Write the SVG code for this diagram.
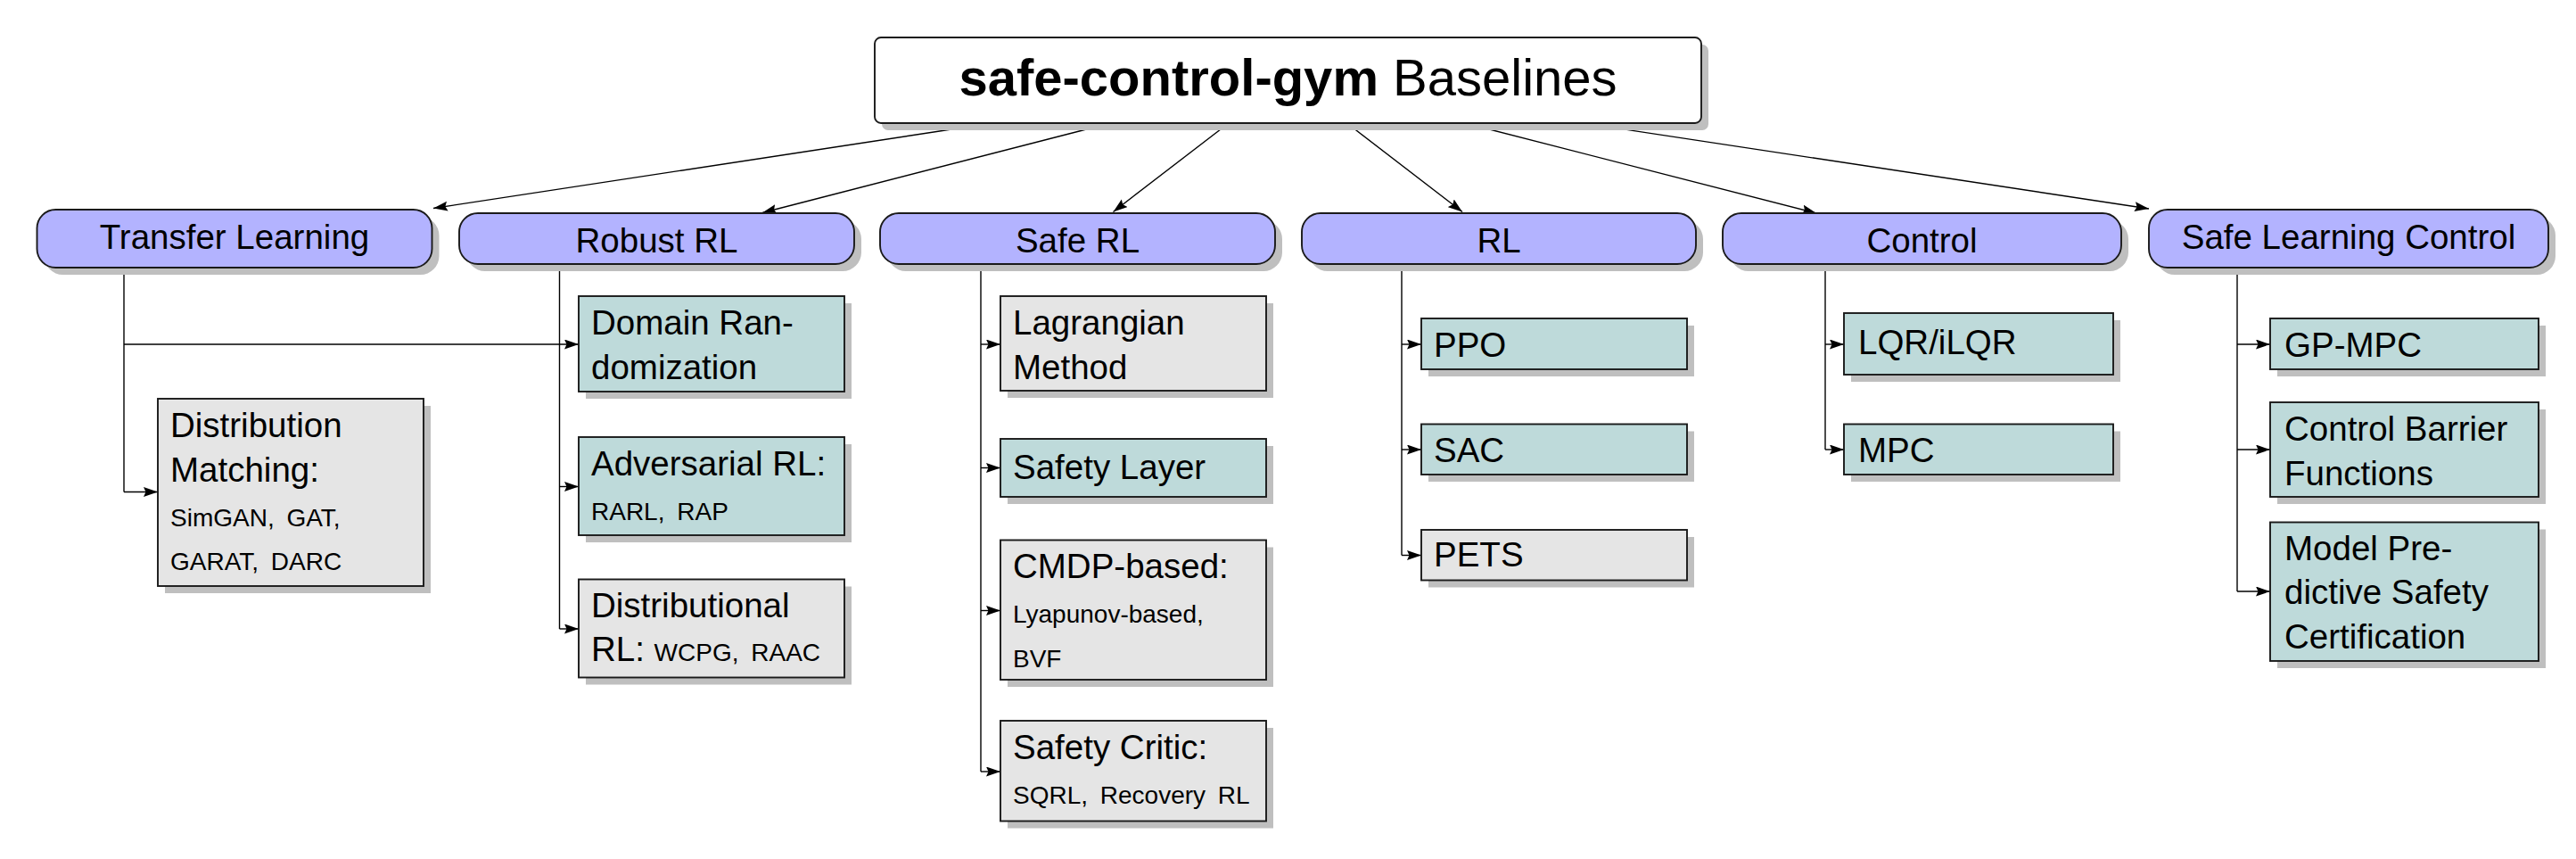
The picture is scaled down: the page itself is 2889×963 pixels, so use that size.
<svg xmlns="http://www.w3.org/2000/svg" width="2889" height="963" viewBox="0 0 2889 963">
<style>
.t{font-family:"Liberation Sans",Arial,sans-serif;font-size:38.5px;fill:#000}
.s{font-size:28px;word-spacing:6px}
.sh{fill:#bfbfbf}
.pill{fill:#b3b3ff;stroke:#1a1a1a;stroke-width:1.9}
.teal{fill:#bedada;stroke:#1a1a1a;stroke-width:1.9}
.gray{fill:#e5e5e5;stroke:#1a1a1a;stroke-width:1.9}
.top{fill:#fff;stroke:#1a1a1a;stroke-width:1.9}
.c{stroke:#000;stroke-width:1.4;fill:none}
.a{marker-end:url(#ah)}
</style>
<defs>
<marker id="ah" markerUnits="userSpaceOnUse" markerWidth="18" markerHeight="12" refX="16" refY="5.5" orient="auto">
<path d="M0,0 L16,5.5 L0,11 L2.5,5.5 z" fill="#000"/>
</marker>
</defs>

<g id="connectors">
<line class="c a" x1="1113" y1="138" x2="486" y2="233.5"/>
<line class="c a" x1="1245.5" y1="138" x2="855" y2="238.5"/>
<line class="c a" x1="1378" y1="138" x2="1248.5" y2="237.5"/>
<line class="c a" x1="1510.5" y1="138" x2="1640" y2="237.5"/>
<line class="c a" x1="1643" y1="138" x2="2037" y2="239"/>
<line class="c a" x1="1775.5" y1="138" x2="2410" y2="234"/>

<line class="c" x1="139" y1="300" x2="139" y2="551.5"/>
<line class="c a" x1="139" y1="386" x2="649" y2="386"/>
<line class="c a" x1="139" y1="551.5" x2="177" y2="551.5"/>

<line class="c" x1="627.5" y1="296" x2="627.5" y2="705"/>
<line class="c a" x1="627.5" y1="545.5" x2="649" y2="545.5"/>
<line class="c a" x1="627.5" y1="705" x2="649" y2="705"/>

<line class="c" x1="1100" y1="296" x2="1100" y2="865"/>
<line class="c a" x1="1100" y1="386" x2="1122" y2="386"/>
<line class="c a" x1="1100" y1="524.5" x2="1122" y2="524.5"/>
<line class="c a" x1="1100" y1="684.5" x2="1122" y2="684.5"/>
<line class="c a" x1="1100" y1="865" x2="1122" y2="865"/>

<line class="c" x1="1572" y1="296" x2="1572" y2="622.5"/>
<line class="c a" x1="1572" y1="386" x2="1594" y2="386"/>
<line class="c a" x1="1572" y1="504" x2="1594" y2="504"/>
<line class="c a" x1="1572" y1="622.5" x2="1594" y2="622.5"/>

<line class="c" x1="2047" y1="296" x2="2047" y2="504"/>
<line class="c a" x1="2047" y1="386" x2="2068" y2="386"/>
<line class="c a" x1="2047" y1="504" x2="2068" y2="504"/>

<line class="c" x1="2509" y1="300" x2="2509" y2="663"/>
<line class="c a" x1="2509" y1="386" x2="2546" y2="386"/>
<line class="c a" x1="2509" y1="504" x2="2546" y2="504"/>
<line class="c a" x1="2509" y1="663" x2="2546" y2="663"/>
</g>

<g id="root">
<rect class="sh" x="989" y="50" width="927" height="96" rx="7"/>
<rect class="top" x="981" y="42" width="927" height="96" rx="7"/>
<text class="t" x="1444.5" y="107" text-anchor="middle" style="font-size:58px"><tspan font-weight="bold">safe-control-gym</tspan> Baselines</text>
</g>

<g id="transfer-learning">
<rect class="sh" x="49.5" y="243" width="443" height="65" rx="21"/>
<rect class="pill" x="41.5" y="235" width="443" height="65" rx="21"/>
<text class="t" x="263" y="278.5" text-anchor="middle">Transfer Learning</text>
</g>
<g id="robust-rl">
<rect class="sh" x="523" y="247" width="443" height="57" rx="21"/>
<rect class="pill" x="515" y="239" width="443" height="57" rx="21"/>
<text class="t" x="736.5" y="283" text-anchor="middle">Robust RL</text>
</g>
<g id="safe-rl">
<rect class="sh" x="995" y="247" width="443" height="57" rx="21"/>
<rect class="pill" x="987" y="239" width="443" height="57" rx="21"/>
<text class="t" x="1208.5" y="283" text-anchor="middle">Safe RL</text>
</g>
<g id="rl">
<rect class="sh" x="1468" y="247" width="442" height="57" rx="21"/>
<rect class="pill" x="1460" y="239" width="442" height="57" rx="21"/>
<text class="t" x="1681" y="283" text-anchor="middle">RL</text>
</g>
<g id="control">
<rect class="sh" x="1940" y="247" width="447" height="57" rx="21"/>
<rect class="pill" x="1932" y="239" width="447" height="57" rx="21"/>
<text class="t" x="2155.5" y="283" text-anchor="middle">Control</text>
</g>
<g id="safe-learning-control">
<rect class="sh" x="2418" y="243" width="448" height="65" rx="21"/>
<rect class="pill" x="2410" y="235" width="448" height="65" rx="21"/>
<text class="t" x="2634" y="278.5" text-anchor="middle">Safe Learning Control</text>
</g>

<g id="domain-randomization">
<rect class="sh" x="657" y="340" width="298" height="107"/>
<rect class="teal" x="649" y="332" width="298" height="107"/>
<text class="t" x="663" y="375">Domain Ran-</text>
<text class="t" x="663" y="425">domization</text>
</g>
<g id="distribution-matching">
<rect class="sh" x="185" y="455" width="298" height="210"/>
<rect class="gray" x="177" y="447" width="298" height="210"/>
<text class="t" x="191" y="490">Distribution</text>
<text class="t" x="191" y="540">Matching:</text>
<text class="t s" x="191" y="589.5">SimGAN, GAT,</text>
<text class="t s" x="191" y="639">GARAT, DARC</text>
</g>
<g id="adversarial-rl">
<rect class="sh" x="657" y="498" width="298" height="110"/>
<rect class="teal" x="649" y="490" width="298" height="110"/>
<text class="t" x="663" y="533">Adversarial RL:</text>
<text class="t s" x="663" y="583">RARL, RAP</text>
</g>
<g id="distributional-rl">
<rect class="sh" x="657" y="657.5" width="298" height="110"/>
<rect class="gray" x="649" y="649.5" width="298" height="110"/>
<text class="t" x="663" y="691.5">Distributional</text>
<text class="t" x="663" y="741">RL: <tspan class="s">WCPG, RAAC</tspan></text>
</g>

<g id="lagrangian-method">
<rect class="sh" x="1130" y="340" width="298" height="106"/>
<rect class="gray" x="1122" y="332" width="298" height="106"/>
<text class="t" x="1136" y="375">Lagrangian</text>
<text class="t" x="1136" y="425">Method</text>
</g>
<g id="safety-layer">
<rect class="sh" x="1130" y="500" width="298" height="65"/>
<rect class="teal" x="1122" y="492" width="298" height="65"/>
<text class="t" x="1136" y="536.5">Safety Layer</text>
</g>
<g id="cmdp-based">
<rect class="sh" x="1130" y="613.5" width="298" height="156.5"/>
<rect class="gray" x="1122" y="605.5" width="298" height="156.5"/>
<text class="t" x="1136" y="648">CMDP-based:</text>
<text class="t s" x="1136" y="698">Lyapunov-based,</text>
<text class="t s" x="1136" y="748">BVF</text>
</g>
<g id="safety-critic">
<rect class="sh" x="1130" y="816" width="298" height="112.5"/>
<rect class="gray" x="1122" y="808" width="298" height="112.5"/>
<text class="t" x="1136" y="850.5">Safety Critic:</text>
<text class="t s" x="1136" y="901">SQRL, Recovery RL</text>
</g>

<g id="ppo">
<rect class="sh" x="1602" y="365" width="298" height="57"/>
<rect class="teal" x="1594" y="357" width="298" height="57"/>
<text class="t" x="1608" y="400">PPO</text>
</g>
<g id="sac">
<rect class="sh" x="1602" y="483.5" width="298" height="56.5"/>
<rect class="teal" x="1594" y="475.5" width="298" height="56.5"/>
<text class="t" x="1608" y="518">SAC</text>
</g>
<g id="pets">
<rect class="sh" x="1602" y="602" width="298" height="56.5"/>
<rect class="gray" x="1594" y="594" width="298" height="56.5"/>
<text class="t" x="1608" y="635">PETS</text>
</g>

<g id="lqr-ilqr">
<rect class="sh" x="2076" y="359" width="302" height="69"/>
<rect class="teal" x="2068" y="351" width="302" height="69"/>
<text class="t" x="2084" y="397">LQR/iLQR</text>
</g>
<g id="mpc">
<rect class="sh" x="2076" y="483.5" width="302" height="56.5"/>
<rect class="teal" x="2068" y="475.5" width="302" height="56.5"/>
<text class="t" x="2084" y="518">MPC</text>
</g>

<g id="gp-mpc">
<rect class="sh" x="2554" y="365" width="301" height="57"/>
<rect class="teal" x="2546" y="357" width="301" height="57"/>
<text class="t" x="2562" y="400">GP-MPC</text>
</g>
<g id="control-barrier-functions">
<rect class="sh" x="2554" y="459" width="301" height="106"/>
<rect class="teal" x="2546" y="451" width="301" height="106"/>
<text class="t" x="2562" y="494">Control Barrier</text>
<text class="t" x="2562" y="543.5">Functions</text>
</g>
<g id="mpsc">
<rect class="sh" x="2554" y="593.5" width="301" height="155.5"/>
<rect class="teal" x="2546" y="585.5" width="301" height="155.5"/>
<text class="t" x="2562" y="628">Model Pre-</text>
<text class="t" x="2562" y="676.5">dictive Safety</text>
<text class="t" x="2562" y="727">Certification</text>
</g>
</svg>
